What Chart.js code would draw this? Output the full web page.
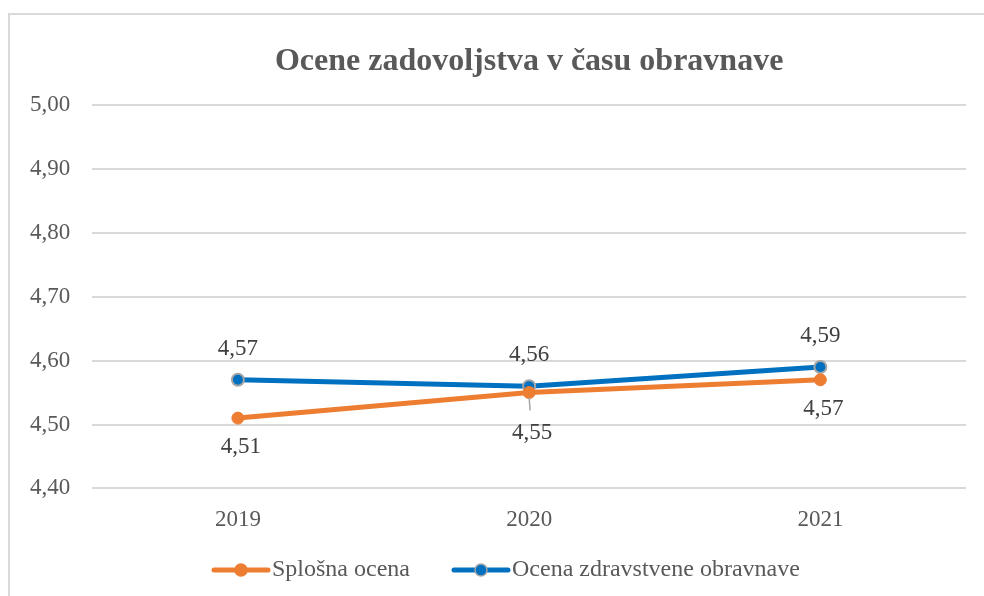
<!DOCTYPE html>
<html>
<head>
<meta charset="utf-8">
<script src="https://cdn.jsdelivr.net/npm/chart.js@4.4.1/dist/chart.umd.min.js"></script>
<style>
    body { margin: 0; background: #fff; }
    #frame { position: absolute; left: 8px; top: 13px; width: 990px; height: 600px; border: 2px solid #d9d9d9; }
    #wrap { position: absolute; left: 0; top: 0; width: 984px; height: 596px; }
</style>
</head>
<body>
<div id="frame"></div>
<div id="wrap"><canvas id="chart"></canvas></div>
<script>
// --- Data ---
const chartTitle = 'Ocene zadovoljstva v času obravnave';
const years = ['2019', '2020', '2021'];
const seriesNames = ['Splošna ocena', 'Ocena zdravstvene obravnave'];
const splosnaOcena = [4.51, 4.55, 4.57];
const zdravstvenaOcena = [4.57, 4.56, 4.59];
const yTicks = [4.40, 4.50, 4.60, 4.70, 4.80, 4.90, 5.00];

const ORANGE = '#ED7D31';
const BLUE = '#0070C0';
const SERIF = '"Liberation Serif", "Times New Roman", serif';

const fmt = v => v.toFixed(2).replace('.', ',');

// title, value labels and legend drawn by hand
const decorPlugin = {
    id: 'decor',
    afterDatasetsDraw(chart) {
        const ctx = chart.ctx;
        const area = chart.chartArea;
        ctx.save();

        // title
        ctx.font = 'bold 32px ' + SERIF;
        ctx.fillStyle = '#595959';
        ctx.textAlign = 'center';
        ctx.textBaseline = 'middle';
        ctx.fillText(chartTitle, (area.left + area.right) / 2, 62);

        // value labels
        ctx.font = '23px ' + SERIF;
        ctx.fillStyle = '#404040';
        chart.data.datasets.forEach((ds, i) => {
            const meta = chart.getDatasetMeta(i);
            meta.data.forEach((pt, j) => {
                const v = ds.data[j];
                let y;
                if (ds.labelSide === 'above') {
                    y = pt.y - 31;
                } else {
                    // 2020 label pushed down with a leader line
                    const pushed = j === 1;
                    y = pt.y + (pushed ? 40 : 29);
                    if (pushed) {
                        ctx.strokeStyle = '#a6a6a6';
                        ctx.lineWidth = 1.5;
                        ctx.beginPath();
                        ctx.moveTo(pt.x, pt.y + 5);
                        ctx.lineTo(pt.x + 1, y - 22);
                        ctx.stroke();
                    }
                }
                ctx.fillText(fmt(v), pt.x + (ds.labelSide === 'above' ? 0 : 3), y);
            });
        });

        // legend
        ctx.font = '24px ' + SERIF;
        ctx.textAlign = 'left';
        const ly = 570;
        const items = [
            { x: 214, color: ORANGE, border: ORANGE, name: seriesNames[0] },
            { x: 454, color: BLUE, border: '#a5a5a5', name: seriesNames[1] }
        ];
        items.forEach(it => {
            ctx.strokeStyle = it.color;
            ctx.lineWidth = 5;
            ctx.lineCap = 'round';
            ctx.beginPath();
            ctx.moveTo(it.x, ly);
            ctx.lineTo(it.x + 54, ly);
            ctx.stroke();
            ctx.beginPath();
            ctx.arc(it.x + 27, ly, 6, 0, Math.PI * 2);
            ctx.fillStyle = it.color;
            ctx.fill();
            ctx.lineWidth = 1.5;
            ctx.strokeStyle = it.border;
            ctx.stroke();
            ctx.fillStyle = '#595959';
            ctx.fillText(it.name, it.x + 58, ly);
        });
        ctx.restore();
    }
};

function initChart() {
    const ctx = document.getElementById('chart').getContext('2d');
    new Chart(ctx, {
        type: 'line',
        data: {
            labels: years,
            datasets: [{
                label: seriesNames[0],
                data: splosnaOcena,
                borderColor: ORANGE,
                backgroundColor: ORANGE,
                pointBackgroundColor: ORANGE,
                pointBorderColor: ORANGE,
                borderWidth: 5,
                pointRadius: 6,
                pointBorderWidth: 1,
                labelSide: 'below'
            }, {
                label: seriesNames[1],
                data: zdravstvenaOcena,
                borderColor: BLUE,
                backgroundColor: BLUE,
                pointBackgroundColor: BLUE,
                pointBorderColor: '#a5a5a5',
                borderWidth: 5,
                pointRadius: 6,
                pointBorderWidth: 2,
                labelSide: 'above'
            }]
        },
        options: {
            responsive: true,
            maintainAspectRatio: false,
            animation: false,
            layout: { padding: { top: 105, left: 8, right: 18, bottom: 44 } },
            scales: {
                x: {
                    offset: true,
                    grid: { display: false, drawTicks: false },
                    border: { display: false },
                    ticks: { color: '#595959', font: { family: SERIF, size: 23 }, padding: 18 }
                },
                y: {
                    min: 4.4,
                    max: 5.0,
                    afterBuildTicks: axis => { axis.ticks = yTicks.map(v => ({ value: v })); },
                    grid: { color: '#d9d9d9', lineWidth: 2, drawTicks: false },
                    border: { display: false },
                    ticks: { color: '#595959', font: { family: SERIF, size: 23 }, padding: 22, callback: v => fmt(v) }
                }
            },
            plugins: {
                legend: { display: false },
                title: { display: false },
                tooltip: { enabled: false }
            }
        },
        plugins: [decorPlugin]
    });
}

document.addEventListener('DOMContentLoaded', initChart);
</script>
</body>
</html>
